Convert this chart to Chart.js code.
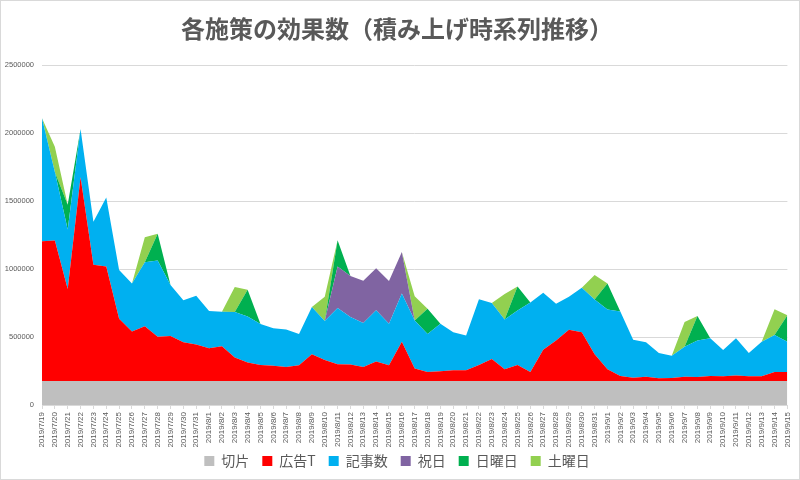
<!DOCTYPE html>
<html lang="ja">
<head>
<meta charset="utf-8">
<title>各施策の効果数</title>
<script src="https://cdn.jsdelivr.net/npm/chart.js@4"></script>
<style>
  html, body { margin: 0; padding: 0; background: #fff; }
  #wrap { width: 800px; height: 480px; }
</style>
</head>
<body>
<div id="wrap"><canvas id="effectChart" width="800" height="480"></canvas></div>
<script>
// 日付ラベル
const dates = [
  '2019/7/19','2019/7/20','2019/7/21','2019/7/22','2019/7/23','2019/7/24','2019/7/25','2019/7/26',
  '2019/7/27','2019/7/28','2019/7/29','2019/7/30','2019/7/31','2019/8/1','2019/8/2','2019/8/3',
  '2019/8/4','2019/8/5','2019/8/6','2019/8/7','2019/8/8','2019/8/9','2019/8/10','2019/8/11',
  '2019/8/12','2019/8/13','2019/8/14','2019/8/15','2019/8/16','2019/8/17','2019/8/18','2019/8/19',
  '2019/8/20','2019/8/21','2019/8/22','2019/8/23','2019/8/24','2019/8/25','2019/8/26','2019/8/27',
  '2019/8/28','2019/8/29','2019/8/30','2019/8/31','2019/9/1','2019/9/2','2019/9/3','2019/9/4',
  '2019/9/5','2019/9/6','2019/9/7','2019/9/8','2019/9/9','2019/9/10','2019/9/11','2019/9/12',
  '2019/9/13','2019/9/14','2019/9/15'
];

// 各系列の値（積み上げ前の値）
const intercept = [
  176000,176000,176000,176000,176000,176000,176000,176000,176000,176000,176000,176000,176000,176000,176000,176000,
  176000,176000,176000,176000,176000,176000,176000,176000,176000,176000,176000,176000,176000,176000,176000,176000,
  176000,176000,176000,176000,176000,176000,176000,176000,176000,176000,176000,176000,176000,176000,176000,176000,
  176000,176000,176000,176000,176000,176000,176000,176000,176000,176000,176000
];
const adT = [
  1029000,1034000,677000,1500000,856000,843000,459000,365000,404000,327000,332000,285000,270000,241000,256000,174000,
  136000,118000,112000,104000,117000,198000,156000,124000,122000,104000,144000,117000,290000,92000,67000,72000,
  79000,79000,119000,163000,87000,119000,67000,231000,298000,377000,360000,198000,87000,37000,25000,32000,
  20000,22000,32000,30000,37000,35000,42000,35000,35000,67000,67000
];
const articles = [
  905000,504000,439000,355000,317000,509000,359000,354000,471000,561000,375000,310000,358000,275000,255000,334000,
  340000,302000,277000,276000,230000,348000,286000,414000,349000,323000,377000,305000,355000,354000,280000,350000,
  281000,256000,484000,412000,367000,400000,511000,419000,272000,243000,327000,402000,439000,476000,280000,253000,
  186000,164000,221000,268000,278000,193000,273000,171000,255000,273000,223000
];
const holiday = [
  0,0,0,0,0,0,0,0,0,0,0,0,0,0,0,0,
  0,0,0,0,0,0,0,305000,303000,312000,310000,315000,305000,0,0,0,
  0,0,0,0,0,0,0,0,0,0,0,0,0,0,0,0,
  0,0,0,0,0,0,0,0,0,0,0
];
const sunday = [
  0,0,181000,0,0,0,0,0,0,196000,0,0,0,0,0,0,
  196000,0,0,0,0,0,0,194000,0,0,0,0,0,0,186000,0,
  0,0,0,0,0,178000,0,0,0,0,0,0,193000,0,0,0,
  0,0,0,181000,0,0,0,0,0,0,194000
];
const saturday = [
  0,186000,0,0,0,0,0,0,184000,0,0,0,0,0,0,184000,
  0,0,0,0,0,0,178000,0,0,0,0,0,0,179000,0,0,
  0,0,0,0,186000,0,0,0,0,0,0,181000,0,0,0,0,
  0,0,181000,0,0,0,0,0,0,188000,0
];

const seriesNames = ['切片', '広告T', '記事数', '祝日', '日曜日', '土曜日'];
const seriesColors = ['#BFBFBF', '#FF0000', '#00B0F0', '#8064A2', '#00B050', '#92D050'];
const seriesData = [intercept, adT, articles, holiday, sunday, saturday];
const yTicks = [0, 500000, 1000000, 1500000, 2000000, 2500000];

const textColor = '#595959';
const fontFamily = '"Noto Sans CJK JP", "Noto Sans", sans-serif';
const tickFamily = '"Liberation Sans", Arial, sans-serif';

// 背景と外枠
const frame = {
  id: 'frame',
  beforeDraw(chart) {
    const c = chart.ctx;
    c.save();
    c.fillStyle = '#ffffff';
    c.fillRect(0, 0, chart.width, chart.height);
    c.strokeStyle = '#d9d9d9';
    c.lineWidth = 1;
    c.strokeRect(0.5, 0.5, chart.width - 1, chart.height - 1);
    c.restore();
  }
};

// 日付ラベルが凡例の領域にはみ出しても切れないようにする
const labelRoom = {
  id: 'labelRoom',
  afterLayout(chart) {
    chart.scales.x.bottom += 14;
  }
};

const ctx = document.getElementById('effectChart').getContext('2d');
new Chart(ctx, {
  type: 'line',
  data: {
    labels: dates,
    datasets: seriesData.map((d, i) => ({
      label: seriesNames[i],
      data: d,
      backgroundColor: seriesColors[i],
      borderColor: seriesColors[i],
      borderWidth: 0,
      pointRadius: 0,
      tension: 0,
      fill: i === 0 ? 'origin' : '-1'
    }))
  },
  options: {
    responsive: false,
    animation: false,
    layout: { padding: { left: 5, right: 11, top: 0, bottom: 2 } },
    scales: {
      x: {
        afterFit: axis => { axis.height = 36; },
        grid: { display: true, drawOnChartArea: false, color: '#d9d9d9', tickLength: 4 },
        border: { color: '#d9d9d9' },
        ticks: {
          autoSkip: false,
          maxRotation: 90,
          minRotation: 90,
          padding: 3,
          color: textColor,
          font: { family: tickFamily, size: 8 }
        }
      },
      y: {
        stacked: true,
        min: 0,
        max: 2500000,
        afterFit: axis => { axis.width = 37; },
        afterBuildTicks: axis => { axis.ticks = yTicks.map(v => ({ value: v })); },
        grid: { color: '#d9d9d9', drawTicks: false },
        border: { display: false },
        ticks: {
          padding: 8,
          color: textColor,
          font: { family: tickFamily, size: 7.5 },
          callback: v => String(v)
        }
      }
    },
    plugins: {
      title: {
        display: true,
        text: '各施策の効果数（積み上げ時系列推移）',
        color: textColor,
        font: { family: fontFamily, size: 24, weight: 'bold' },
        padding: { top: 14, bottom: 22.5 }
      },
      legend: {
        position: 'bottom',
        labels: {
          color: textColor,
          font: { family: fontFamily, size: 14 },
          boxWidth: 10,
          boxHeight: 10,
          padding: 13
        }
      },
      tooltip: { enabled: false }
    }
  },
  plugins: [frame, labelRoom]
});
</script>
</body>
</html>
